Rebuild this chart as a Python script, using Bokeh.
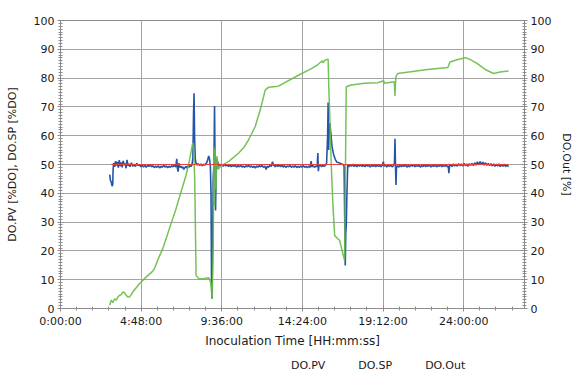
from bokeh.plotting import figure
from bokeh.models import (Range1d, LinearAxis, FixedTicker, CustomJSTickFormatter,
                          Legend, LegendItem)
from bokeh.layouts import column
from bokeh.embed import file_html
from bokeh.resources import INLINE

# ---------------- data (time in hours) ----------------
pv_hours = [2.93, 2.97, 3.02, 3.07, 3.11, 3.13, 3.16,
    3.22, 3.28, 3.33, 3.38, 3.44, 3.50, 3.55, 3.61, 3.67, 3.73, 3.79, 3.85, 3.90, 3.96,
    4.02, 4.08, 4.14, 4.22, 4.30, 4.38, 4.46, 4.54, 4.62, 4.70, 4.78, 4.86, 4.94,
    5.02, 5.10, 5.18, 5.26, 5.34, 5.42, 5.50, 5.58, 5.66, 5.74, 5.82, 5.90, 5.98,
    6.06, 6.14, 6.22, 6.30, 6.38, 6.46, 6.54, 6.62, 6.70, 6.78, 6.86, 6.92, 6.96,
    7.00, 7.05, 7.10, 7.16, 7.22, 7.28, 7.34, 7.40, 7.46, 7.52, 7.58, 7.64, 7.70,
    7.76, 7.82, 7.88, 7.92, 7.95, 7.98, 8.02, 8.07, 8.13, 8.20, 8.28, 8.36, 8.44,
    8.52, 8.60, 8.68, 8.76, 8.82, 8.87, 8.92, 8.96, 8.99, 9.02, 9.05, 9.09, 9.13,
    9.17, 9.20, 9.23, 9.26, 9.29, 9.32, 9.36, 9.40, 9.46, 9.52, 9.60, 9.68, 9.76,
    9.84, 9.92, 10.00, 10.08, 10.16, 10.24, 10.32, 10.40, 10.48, 10.56, 10.64,
    10.72, 10.80, 10.88, 10.96, 11.04, 11.12, 11.20, 11.28, 11.36, 11.44, 11.52,
    11.60, 11.68, 11.76, 11.84, 11.92, 12.00, 12.08, 12.16, 12.24, 12.30, 12.38,
    12.46, 12.54, 12.62, 12.68, 12.70, 12.78, 12.86, 12.94, 13.02, 13.10, 13.18,
    13.26, 13.34, 13.42, 13.50, 13.58, 13.66, 13.74, 13.82, 13.90, 13.98, 14.06,
    14.14, 14.22, 14.30, 14.38, 14.46, 14.54, 14.62, 14.70, 14.78, 14.86, 14.92,
    14.96, 15.04, 15.12, 15.20, 15.28, 15.32, 15.35, 15.38, 15.46, 15.54, 15.62,
    15.70, 15.78, 15.84, 15.90, 15.93, 15.96, 16.00, 16.03, 16.09, 16.16, 16.26,
    16.36, 16.46, 16.58, 16.70, 16.82, 16.88, 16.92, 16.95, 16.98, 17.01, 17.05,
    17.10, 17.16, 17.24, 17.32, 17.40, 17.48, 17.56, 17.64, 17.72, 17.80, 17.88,
    17.96, 18.04, 18.12, 18.20, 18.28, 18.36, 18.44, 18.52, 18.60, 18.68, 18.76,
    18.84, 18.92, 19.00, 19.08, 19.16, 19.22, 19.26, 19.34, 19.42, 19.50, 19.58,
    19.66, 19.74, 19.82, 19.88, 19.91, 19.94, 19.97, 20.00, 20.06, 20.14, 20.22,
    20.30, 20.38, 20.46, 20.54, 20.62, 20.70, 20.78, 20.86, 20.94, 21.02, 21.10,
    21.18, 21.26, 21.34, 21.42, 21.50, 21.58, 21.66, 21.74, 21.82, 21.90, 21.98,
    22.06, 22.14, 22.22, 22.30, 22.38, 22.46, 22.54, 22.62, 22.70, 22.78, 22.86,
    22.94, 23.02, 23.08, 23.12, 23.16, 23.22, 23.30, 23.38, 23.46, 23.54, 23.62,
    23.70, 23.78, 23.86, 23.94, 24.02, 24.10, 24.18, 24.26, 24.34, 24.42, 24.50,
    24.58, 24.66, 24.74, 24.82, 24.90, 24.98, 25.06, 25.14, 25.22, 25.30, 25.38,
    25.46, 25.54, 25.62, 25.70, 25.78, 25.86, 25.94, 26.02, 26.10, 26.18, 26.26,
    26.34, 26.42, 26.50, 26.58, 26.67]
pv_values = [46.5, 44.5, 44.0, 42.5, 43.0, 48.0, 50.5,
    49.2, 51.2, 49.6, 50.9, 48.9, 51.5, 49.4, 50.7, 49.0, 51.3, 49.8, 50.4, 48.7, 51.6,
    49.5, 50.3, 49.2, 50.6, 49.4, 50.1, 49.3, 50.4, 49.6, 50.0, 49.2, 49.9, 49.1,
    49.8, 49.0, 49.7, 49.3, 50.0, 49.2, 49.6, 48.9, 49.5, 49.0, 49.6, 48.8, 49.4,
    49.0, 49.7, 49.1, 49.5, 48.9, 49.4, 49.0, 49.6, 49.2, 49.8, 49.1, 52.0, 48.6,
    47.5, 50.5, 49.0, 49.4, 48.8, 49.2, 48.3, 48.9, 49.3, 48.8, 49.5, 49.0, 49.6,
    49.3, 49.8, 52.0, 68.0, 74.7, 60.0, 52.0, 50.4, 49.8, 50.3, 49.7, 50.2, 49.6,
    50.1, 49.8, 50.4, 51.5, 53.0, 52.0, 49.5, 40.0, 10.0, 3.4, 20.0, 45.0, 50.0,
    70.3, 50.0, 34.0, 45.0, 52.0, 48.5, 51.0, 49.3, 50.2, 49.6, 50.0, 49.4, 50.1,
    49.5, 49.9, 49.3, 49.8, 49.2, 49.7, 49.3, 49.8, 49.1, 49.6, 49.2,
    49.7, 49.1, 49.5, 49.0, 49.6, 49.2, 49.7, 49.1, 49.5, 49.0, 49.4,
    48.8, 49.5, 49.1, 49.6, 49.2, 49.7, 49.0, 49.5, 48.3, 49.4, 49.0,
    49.7, 49.3, 51.0, 49.5, 49.8, 49.2, 49.9, 49.3, 49.8, 49.2, 49.7,
    49.1, 49.6, 49.0, 49.5, 49.2, 49.7, 49.0, 49.5, 49.1, 49.6, 48.9,
    49.4, 49.0, 49.5, 49.1, 49.6, 49.0, 49.4, 48.9, 49.5, 49.0, 51.2,
    49.2, 49.6, 49.0, 49.5, 49.2, 54.0, 47.7, 49.4, 49.8, 49.2, 49.7,
    49.3, 49.8, 50.5, 60.0, 71.5, 55.0, 63.0, 64.4, 61.0, 56.3, 53.4,
    51.7, 50.8, 50.6, 50.3, 50.0, 49.5, 30.0, 14.9, 26.0, 28.7, 40.0,
    50.0, 49.2, 50.0, 49.4, 50.1, 49.3, 49.9, 49.2, 49.8, 49.4, 50.0,
    49.3, 49.8, 49.2, 49.9, 49.4, 49.8, 49.1, 49.7, 49.3, 49.9, 49.2,
    49.8, 49.3, 49.7, 49.2, 49.8, 51.0, 49.4, 49.8, 49.1, 49.7, 49.3,
    49.8, 49.2, 49.6, 50.5, 58.9, 50.0, 42.9, 49.0, 49.6, 49.1, 49.7,
    49.2, 49.8, 49.3, 49.9, 49.1, 49.6, 49.2, 49.8, 49.4, 49.9, 49.2,
    49.7, 49.3, 49.8, 49.1, 49.6, 49.3, 49.9, 49.2, 49.7, 49.4, 49.8,
    49.1, 49.7, 49.3, 49.9, 49.2, 49.6, 49.4, 49.9, 49.2, 49.7, 49.3,
    49.8, 49.2, 49.5, 47.0, 49.6, 50.0, 49.3, 50.2, 49.5, 50.1, 49.4,
    50.3, 49.6, 50.2, 49.5, 50.4, 49.6, 50.2, 49.4, 50.3, 49.7, 50.4,
    49.6, 50.6, 49.8, 50.9, 49.9, 51.0, 50.0, 50.8, 49.8, 50.6, 49.7,
    50.4, 49.6, 50.3, 49.5, 50.2, 49.4, 50.1, 49.5, 50.2, 49.3, 50.0,
    49.4, 50.1, 49.3, 49.9, 49.2]

sp_hours = [3.02, 26.67]
sp_values = [50.0, 50.0]

out_hours = [2.93, 3.02, 3.12, 3.22, 3.32, 3.42, 3.52, 3.62, 3.71, 3.81, 3.91, 4.01,
    4.11, 4.21, 4.30, 4.70, 5.09, 5.48, 5.59, 5.78, 6.08, 6.28, 6.57, 6.87, 7.16,
    7.46, 7.65, 7.85, 7.91, 7.99, 8.07, 8.24, 8.54, 8.83, 8.94, 9.03, 9.09, 9.13,
    9.17, 9.21, 9.25, 9.31, 9.39, 9.53, 10.02, 10.61, 10.90, 11.20, 11.59, 11.89,
    12.19, 12.38, 12.97, 14.16, 14.94, 15.34, 15.50, 15.57, 15.63, 15.73, 15.93,
    15.97, 16.03, 16.12, 16.22, 16.32, 16.48, 16.62, 16.76, 16.91, 17.01, 17.30,
    18.10, 18.88, 19.24, 19.28, 19.87, 19.91, 19.96, 20.07, 20.85, 21.84, 23.06,
    23.18, 23.61, 24.10, 24.40, 24.79, 25.28, 25.78, 26.17, 26.67]
out_values = [1.1, 2.9, 2.1, 3.4, 2.9, 4.0, 4.6, 4.8, 5.7, 5.5, 4.6, 4.0,
    4.0, 4.8, 5.7, 8.6, 10.9, 12.9, 13.8, 16.7, 20.7, 24.1, 29.3, 34.5, 40.2,
    46.0, 50.6, 56.9, 57.5, 44.8, 11.5, 10.3, 10.3, 10.7, 9.0, 3.4, 21.8, 56.3,
    35.6, 55.2, 41.4, 52.9, 48.3, 49.4, 51.1, 54.0, 55.8, 58.6, 63.2, 69.0,
    75.9, 76.8, 77.2, 81.0, 83.3, 84.8, 85.6, 86.0, 85.3, 86.2, 86.6,
    77.0, 66.7, 49.4, 35.6, 25.3, 24.4, 23.6, 20.1, 16.7, 77.0, 77.6,
    78.2, 78.4, 79.1, 78.2, 78.7, 73.8, 80.4, 81.6, 82.2, 83.0, 83.7,
    85.6, 86.4, 87.1, 86.4, 85.1, 83.0, 81.6, 82.1, 82.5]

series_names = ["DO.PV", "DO.SP", "DO.Out"]
x_major = [0, 4.8, 9.6, 14.4, 19.2, 24.0]
x_minor = [0.96 * i for i in range(29)]
y_major = list(range(0, 101, 10))
y_minor = list(range(0, 101, 1))

# ---------------- styling ----------------
FONT = "DejaVu Sans"
TXT = "#1a1a1a"
GRID = "#a3a3a3"
AXIS = "#8c8c8c"
BLUE = "#2356a8"
RED = "#e8403a"
GREEN = "#66bb46"

# main chart: fixed canvas 576 x 350, legend strip of 24 px below it
p = figure(width=576, height=350, output_backend="svg", toolbar_location=None,
           x_range=Range1d(0, 27.62), y_range=Range1d(0, 100),
           min_border_left=60, min_border_right=49, min_border_top=20,
           min_border_bottom=0, background_fill_color="white",
           border_fill_color="white", outline_line_color=AXIS)
p.extra_y_ranges = {"out": Range1d(0, 100)}

fmt = CustomJSTickFormatter(code="""
const s = Math.round(tick * 3600);
const h = Math.floor(s / 3600);
const m = Math.floor((s % 3600) / 60);
const ss = s % 60;
return h + ':' + String(m).padStart(2, '0') + ':' + String(ss).padStart(2, '0');
""")

xa = p.xaxis[0]
xa.ticker = FixedTicker(ticks=x_major, minor_ticks=x_minor)
xa.formatter = fmt
xa.axis_label = "Inoculation Time [HH:mm:ss]"
xa.axis_label_standoff = 3

ya = p.yaxis[0]
ya.ticker = FixedTicker(ticks=y_major, minor_ticks=y_minor)
ya.axis_label = "DO.PV [%DO], DO.SP [%DO]"
ya.axis_label_standoff = 12

ra = LinearAxis(y_range_name="out", axis_label="DO.Out [%]",
                ticker=FixedTicker(ticks=y_major, minor_ticks=y_minor))
ra.axis_label_standoff = 6
p.add_layout(ra, "right")

for ax in [xa, ya, ra]:
    ax.axis_line_color = AXIS
    ax.major_tick_line_color = AXIS
    ax.minor_tick_line_color = AXIS
    ax.major_tick_in = 3
    ax.major_tick_out = 3
    ax.minor_tick_in = 2
    ax.minor_tick_out = 2
    ax.major_label_standoff = 3
    ax.major_label_text_font = FONT
    ax.major_label_text_font_size = "11px"
    ax.major_label_text_color = TXT
    ax.axis_label_text_font = FONT
    ax.axis_label_text_font_size = "11px"
    ax.axis_label_text_font_style = "normal"
    ax.axis_label_text_color = TXT
xa.axis_label_text_font_size = "12px"

p.xgrid.ticker = FixedTicker(ticks=x_major)
p.ygrid.ticker = FixedTicker(ticks=y_major)
for g in [p.xgrid[0], p.ygrid[0]]:
    g.grid_line_color = GRID
    g.grid_line_width = 1

p.line(pv_hours, pv_values, line_color=BLUE, line_width=1.6)
p.line(out_hours, out_values, line_color=GREEN, line_width=1.5,
       line_alpha=0.9, y_range_name="out")
p.line(sp_hours, sp_values, line_color=RED, line_width=1.2)

# legend strip: a small axis-less figure holding only the legend
lg = figure(width=576, height=24, output_backend="svg", toolbar_location=None,
            x_range=Range1d(0, 1), y_range=Range1d(0, 1),
            x_axis_location=None, y_axis_location=None,
            min_border=0, min_border_left=0, min_border_right=0,
            min_border_top=0, min_border_bottom=0,
            outline_line_color=None, background_fill_color="white",
            border_fill_color="white")
lg.xgrid.visible = False
lg.ygrid.visible = False
k_pv = lg.line(x=[], y=[], line_color=BLUE, line_width=1.6)
k_sp = lg.line(x=[], y=[], line_color=RED, line_width=1.2)
k_out = lg.line(x=[], y=[], line_color=GREEN, line_width=1.5)

legend = Legend(items=[LegendItem(label=series_names[0], renderers=[k_pv]),
                       LegendItem(label=series_names[1], renderers=[k_sp]),
                       LegendItem(label=series_names[2], renderers=[k_out])],
                orientation="horizontal", location=(213, 2),
                border_line_alpha=0, background_fill_alpha=0,
                label_text_font=FONT, label_text_font_size="11px",
                label_text_color=TXT, glyph_width=15, glyph_height=10,
                label_height=14, label_standoff=3, spacing=15,
                padding=0, margin=0)
lg.add_layout(legend)

layout = column(p, lg, spacing=0)
open("out.html", "w").write(file_html(layout, INLINE))
